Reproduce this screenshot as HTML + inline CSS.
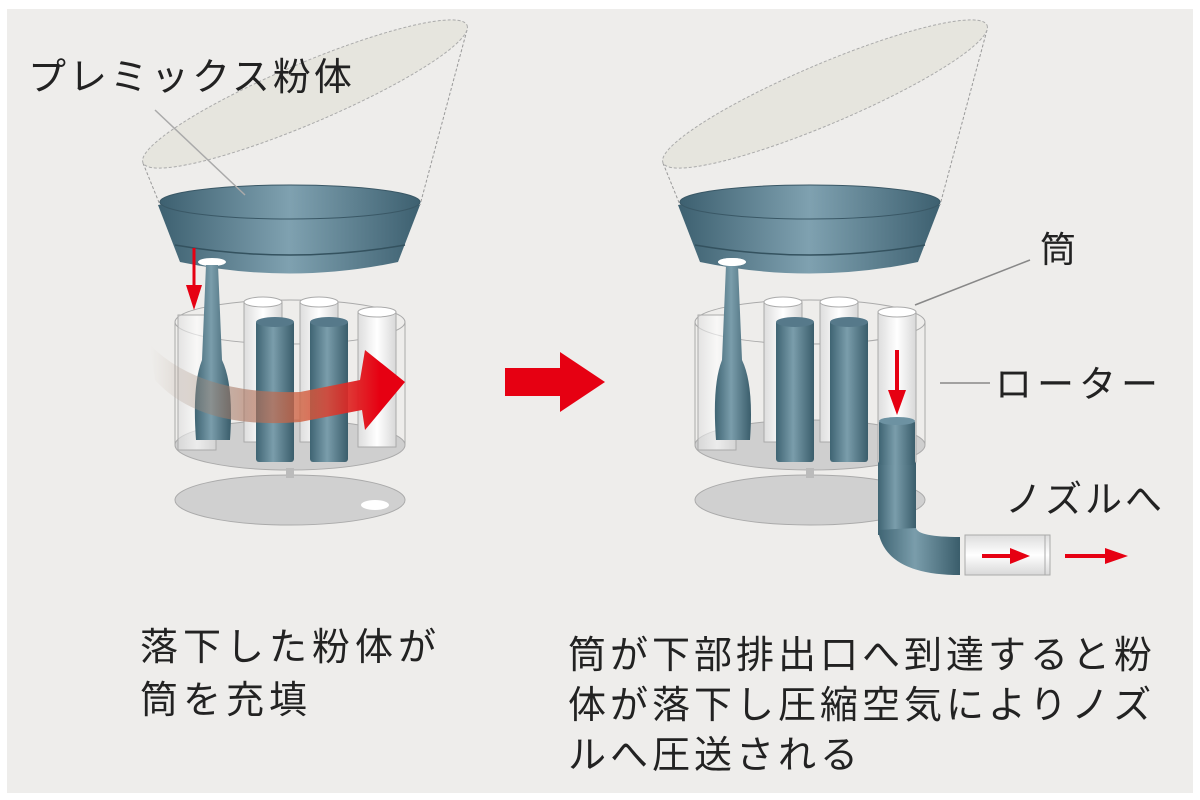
<!DOCTYPE html>
<html><head><meta charset="utf-8"><style>
html,body{margin:0;padding:0;background:#fff}
svg{display:block}
text{font-family:"Liberation Sans","Noto Sans CJK JP",sans-serif;fill:#222}
</style></head><body>
<svg width="1200" height="800" viewBox="0 0 1200 800" xmlns="http://www.w3.org/2000/svg">
<defs>
<linearGradient id="tb" x1="0" x2="1" y1="0" y2="0">
<stop offset="0" stop-color="#3d6070"/><stop offset="0.5" stop-color="#7fa1b0"/><stop offset="1" stop-color="#3d6070"/></linearGradient>
<linearGradient id="cyl" x1="0" x2="1"><stop offset="0" stop-color="#3f6473"/><stop offset="0.45" stop-color="#7a9dab"/><stop offset="1" stop-color="#3a5d6b"/></linearGradient>
<linearGradient id="wt" x1="0" x2="1"><stop offset="0" stop-color="#ddd"/><stop offset="0.5" stop-color="#fff"/><stop offset="1" stop-color="#d8d8d8"/></linearGradient>
<linearGradient id="wtv" x1="0" x2="0" y1="0" y2="1"><stop offset="0" stop-color="#ddd"/><stop offset="0.5" stop-color="#fff"/><stop offset="1" stop-color="#d8d8d8"/></linearGradient>
<linearGradient id="rarr" x1="0" x2="1"><stop offset="0" stop-color="#c9b6a8" stop-opacity="0"/><stop offset="0.25" stop-color="#9a8070" stop-opacity="0.5"/><stop offset="0.6" stop-color="#d2603f" stop-opacity="0.8"/><stop offset="0.9" stop-color="#e60012"/></linearGradient>
<g id="base">
 <line x1="143" y1="163" x2="160" y2="205" stroke="#999" stroke-dasharray="3,2"/>
 <line x1="467" y1="30" x2="420" y2="205" stroke="#999" stroke-dasharray="3,2"/>
 <ellipse cx="305" cy="94" rx="176" ry="30" transform="rotate(-23 305 94)" fill="#e6e5de" stroke="#aaa" stroke-dasharray="3,2"/>
 <path d="M158 205 Q290 180 420 205 L398 262 Q290 285 180 262 Z" fill="url(#tb)"/>
 <ellipse cx="290" cy="202" rx="130" ry="17" fill="url(#tb)" stroke="#3a5866" stroke-width="1"/>
 <path d="M175 245 Q290 265 405 245" fill="none" stroke="#34525f" stroke-width="1.5"/>
 <ellipse cx="212" cy="262" rx="14" ry="4" fill="#fff"/>
 <ellipse cx="290" cy="445" rx="115" ry="25" fill="#cfcfcf" stroke="#aaa"/>
 <ellipse cx="290" cy="322" rx="115" ry="22" fill="none" stroke="#aaa"/>
 <line x1="175" y1="322" x2="175" y2="445" stroke="#aaa"/>
 <line x1="405" y1="322" x2="405" y2="445" stroke="#aaa"/>
 <rect x="244" y="302" width="38" height="140" fill="url(#wt)" stroke="#aaa"/>
 <ellipse cx="263" cy="302" rx="19" ry="5" fill="#fff" stroke="#aaa"/>
 <rect x="300" y="302" width="38" height="140" fill="url(#wt)" stroke="#aaa"/>
 <ellipse cx="319" cy="302" rx="19" ry="5" fill="#fff" stroke="#aaa"/>
 <rect x="256" y="320" width="38" height="142" rx="3" fill="url(#cyl)"/>
 <ellipse cx="275" cy="322" rx="19" ry="5" fill="#56798a"/>
 <rect x="310" y="320" width="38" height="142" rx="3" fill="url(#cyl)"/>
 <ellipse cx="329" cy="322" rx="19" ry="5" fill="#56798a"/>
 <rect x="178" y="315" width="38" height="135" fill="url(#wt)" fill-opacity="0.6" stroke="#aaa"/>
 <ellipse cx="290" cy="500" rx="115" ry="25" fill="#d0d0d0" stroke="#aaa"/>
 <line x1="290" y1="468" x2="290" y2="478" stroke="#bbb" stroke-width="8"/>
</g>
</defs>
<rect x="0" y="0" width="1200" height="800" fill="#fff"/>
<rect x="7" y="9" width="1186" height="784" fill="#eeedeb"/>

<use href="#base"/>
<ellipse cx="375" cy="505" rx="14" ry="5" fill="#fff"/>
<path d="M206 265 L202 360 Q192 385 196 440 L230 440 Q234 385 222 360 L218 265 Z" fill="url(#cyl)"/>
<rect x="358" y="312" width="38" height="135" fill="url(#wt)" stroke="#aaa"/>
<ellipse cx="377" cy="312" rx="19" ry="5" fill="#fff" stroke="#aaa"/>
<path d="M150 345 Q200 395 300 392 L360 380 L365 350 L405 382 L365 430 L362 410 L300 422 Q200 430 155 380 Z" fill="url(#rarr)"/>
<line x1="194" y1="248" x2="194" y2="290" stroke="#e60012" stroke-width="3"/>
<polygon points="186,285 202,285 194,310" fill="#e60012"/>
<line x1="155" y1="110" x2="245" y2="195" stroke="#aaa" stroke-width="1.5"/>

<polygon points="505,368 560,368 560,352 605,382 560,412 560,396 505,396" fill="#e60012"/>

<g transform="translate(520,0)"><use href="#base"/></g>
<path d="M726 265 L722 360 Q712 385 716 440 L750 440 Q754 385 742 360 L738 265 Z" fill="url(#cyl)"/>
<ellipse cx="732" cy="262" rx="14" ry="4" fill="#fff"/>
<rect x="878" y="455" width="38" height="80" fill="url(#cyl)"/>
<path d="M878 530 Q885 575 960 575 L960 537 Q918 537 916 528 Z" fill="url(#cyl)"/>
<rect x="965" y="535" width="85" height="40" fill="url(#wtv)" stroke="#aaa"/>
<line x1="1045" y1="535" x2="1045" y2="575" stroke="#aaa"/>
<rect x="878" y="312" width="38" height="150" fill="url(#wt)" stroke="#aaa"/>
<ellipse cx="897" cy="312" rx="19" ry="5" fill="#fff" stroke="#aaa"/>
<rect x="879" y="420" width="36" height="45" rx="3" fill="url(#cyl)"/>
<ellipse cx="897" cy="421" rx="18" ry="4" fill="#6d92a2"/>
<line x1="897" y1="350" x2="897" y2="395" stroke="#e60012" stroke-width="4"/>
<polygon points="888,390 906,390 897,415" fill="#e60012"/>
<line x1="982" y1="556" x2="1015" y2="556" stroke="#e60012" stroke-width="4"/>
<polygon points="1010,548 1030,556 1010,564" fill="#e60012"/>
<line x1="1065" y1="556" x2="1110" y2="556" stroke="#e60012" stroke-width="4"/>
<polygon points="1105,548 1128,556 1105,564" fill="#e60012"/>
<line x1="1030" y1="260" x2="915" y2="305" stroke="#888" stroke-width="1.5"/>
<line x1="940" y1="383" x2="990" y2="383" stroke="#888" stroke-width="1.5"/>

<text x="28" y="90" font-size="38" letter-spacing="3">プレミックス粉体</text>
<text x="1040" y="262" font-size="36">筒</text>
<text x="995" y="397" font-size="37" letter-spacing="5">ローター</text>
<text x="1005" y="512" font-size="37" letter-spacing="3">ノズルへ</text>
<text x="140" y="660" font-size="38" letter-spacing="5">落下した粉体が</text>
<text x="140" y="713" font-size="38" letter-spacing="5">筒を充填</text>
<text x="568" y="668" font-size="38" letter-spacing="4">筒が下部排出口へ到達すると粉</text>
<text x="568" y="718" font-size="38" letter-spacing="4">体が落下し圧縮空気によりノズ</text>
<text x="568" y="768" font-size="38" letter-spacing="4">ルへ圧送される</text>
</svg>
</body></html>
